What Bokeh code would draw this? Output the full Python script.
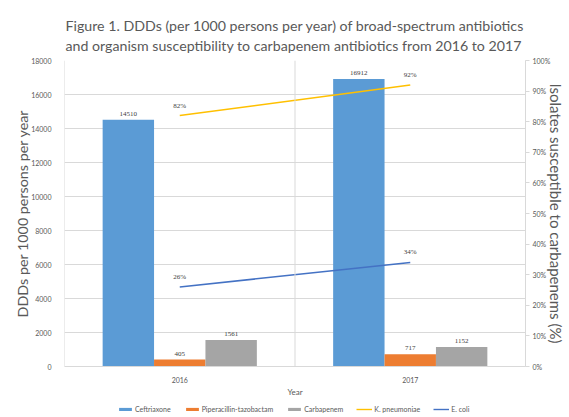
from bokeh.plotting import figure
from bokeh.layouts import column
from bokeh.models import (Range1d, LinearAxis, FixedTicker, NumeralTickFormatter, Span,
                          Legend, LegendItem, ColumnDataSource, LabelSet, Title, FactorRange)
from bokeh.transform import dodge
from bokeh.embed import file_html
from bokeh.resources import INLINE

# ---- data ----
years = ["2016", "2017"]
ceftriaxone = [14510, 16912]
pip_tazo = [405, 717]
carbapenem = [1561, 1152]
k_pneumoniae = [0.82, 0.92]
e_coli = [0.26, 0.34]
left_ticks = [0, 2000, 4000, 6000, 8000, 10000, 12000, 14000, 16000, 18000]
right_ticks = [0, 0.1, 0.2, 0.3, 0.4, 0.5, 0.6, 0.7, 0.8, 0.9, 1.0]
series_names = ["Ceftriaxone", "Piperacillin-tazobactam", "Carbapenem", "K. pneumoniae", "E. coli"]

FONT = "Lato"
GRAY = "#595959"
GRID = "#D9D9D9"
C_CEF, C_PIP, C_CAR, C_KP, C_EC = "#5B9BD5", "#ED7D31", "#A5A5A5", "#FFC000", "#4472C4"

fig = figure(width=569, height=400, x_range=FactorRange(*years, range_padding=0),
             y_range=Range1d(0, 18000), output_backend="svg", toolbar_location=None,
             min_border_left=64, min_border_right=44, min_border_top=60, min_border_bottom=34)
fig.outline_line_color = None
fig.extra_y_ranges = {"pct": Range1d(0, 1)}

fig.title = Title(text="Figure 1. DDDs (per 1000 persons per year) of broad-spectrum antibiotics\nand organism susceptibility to carbapenem antibiotics from 2016 to 2017",
                  align="center", text_font=FONT, text_font_size="14.2px", text_color=GRAY,
                  text_font_style="normal", standoff=12, text_line_height=1.22)

src = ColumnDataSource(dict(year=years, cef=ceftriaxone, pip=pip_tazo, car=carbapenem,
                            kp=k_pneumoniae, ec=e_coli,
                            kp_lab=[f"{int(round(v*100))}%" for v in k_pneumoniae],
                            ec_lab=[f"{int(round(v*100))}%" for v in e_coli]))

w = 0.223
fig.vbar(x=dodge("year", -w, range=fig.x_range), top="cef", width=w, source=src,
         fill_color=C_CEF, line_color=None)
fig.vbar(x=dodge("year", 0, range=fig.x_range), top="pip", width=w, source=src,
         fill_color=C_PIP, line_color=None)
fig.vbar(x=dodge("year", w, range=fig.x_range), top="car", width=w, source=src,
         fill_color=C_CAR, line_color=None)
fig.line(x="year", y="kp", source=src, y_range_name="pct", line_color=C_KP, line_width=1.6)
fig.line(x="year", y="ec", source=src, y_range_name="pct", line_color=C_EC, line_width=1.6)

lab_kw = dict(source=src, text_font=FONT, text_font_size="7px", text_color="#404040",
              text_align="center", text_baseline="bottom")
for col, off in (("cef", -w), ("pip", 0), ("car", w)):
    fig.add_layout(LabelSet(x=dodge("year", off, range=fig.x_range), y=col, text=col,
                            y_offset=4, **lab_kw))
fig.add_layout(LabelSet(x="year", y="kp", text="kp_lab", y_range_name="pct", y_offset=6, **lab_kw))
fig.add_layout(LabelSet(x="year", y="ec", text="ec_lab", y_range_name="pct", y_offset=6, **lab_kw))

# grids
fig.xgrid.visible = False
fig.ygrid.grid_line_color = GRID
fig.ygrid.ticker = FixedTicker(ticks=left_ticks)
for loc in (0, 1, 2):
    fig.add_layout(Span(location=loc, dimension="height", line_color=GRID, line_width=1))

# left axis
ya = fig.yaxis[0]
ya.ticker = FixedTicker(ticks=left_ticks)
ya.axis_line_color = None
ya.major_tick_line_color = None
ya.minor_tick_line_color = None
ya.major_label_text_font = FONT
ya.major_label_text_font_size = "7px"
ya.major_label_text_color = GRAY
ya.major_label_standoff = 7
ya.axis_label = "DDDs per 1000 persons per year"
ya.axis_label_text_font = FONT
ya.axis_label_text_font_size = "14.3px"
ya.axis_label_text_font_style = "normal"
ya.axis_label_text_color = GRAY
ya.axis_label_standoff = -3

# right axis
ra = LinearAxis(y_range_name="pct", ticker=FixedTicker(ticks=right_ticks),
                formatter=NumeralTickFormatter(format="0%"))
ra.axis_line_color = GRID
ra.major_tick_line_color = GRID
ra.major_tick_out = 4
ra.major_tick_in = 0
ra.minor_tick_line_color = None
ra.major_label_text_font = FONT
ra.major_label_text_font_size = "7px"
ra.major_label_text_color = GRAY
ra.major_label_standoff = 3
ra.axis_label = "Isolates susceptible to carbapenems (%)"
ra.axis_label_text_font = FONT
ra.axis_label_text_font_size = "15px"
ra.axis_label_text_font_style = "normal"
ra.axis_label_text_color = GRAY
ra.axis_label_standoff = -6
fig.add_layout(ra, "right")

# bottom axis
xa = fig.xaxis[0]
xa.axis_line_color = GRID
xa.major_tick_line_color = None
xa.minor_tick_line_color = None
xa.major_label_text_font = FONT
xa.major_label_text_font_size = "7px"
xa.major_label_text_color = GRAY
xa.major_label_standoff = 4
xa.axis_label = "Year"
xa.axis_label_text_font = FONT
xa.axis_label_text_font_size = "8px"
xa.axis_label_text_font_style = "normal"
xa.axis_label_text_color = GRAY
xa.axis_label_standoff = 1

# legend strip below the chart (proxy renderers carry no visible data)
nan = float("nan")
lf = figure(width=569, height=17, output_backend="svg", toolbar_location=None,
            x_axis_type=None, y_axis_type=None, min_border=0,
            x_range=Range1d(0, 1), y_range=Range1d(0, 1))
lf.outline_line_color = None
lf.xgrid.visible = False
lf.ygrid.visible = False
g_cef = lf.vbar(x=[nan], top=[nan], width=0.1, fill_color=C_CEF, line_color=None)
g_pip = lf.vbar(x=[nan], top=[nan], width=0.1, fill_color=C_PIP, line_color=None)
g_car = lf.vbar(x=[nan], top=[nan], width=0.1, fill_color=C_CAR, line_color=None)
g_kp = lf.line(x=[nan], y=[nan], line_color=C_KP, line_width=1.4)
g_ec = lf.line(x=[nan], y=[nan], line_color=C_EC, line_width=1.4)
legend = Legend(items=[LegendItem(label=n, renderers=[r]) for n, r in
                       zip(series_names, [g_cef, g_pip, g_car, g_kp, g_ec])],
                orientation="horizontal", location=(53, 3),
                label_text_font=FONT, label_text_font_size="7px", label_text_color=GRAY,
                label_height=10, glyph_width=16, glyph_height=4, label_standoff=2, spacing=13,
                padding=0, margin=0, border_line_color=None, background_fill_alpha=0)
lf.add_layout(legend, "center")

p = column(fig, lf, spacing=0)
open("out.html", "w").write(file_html(p, INLINE))
